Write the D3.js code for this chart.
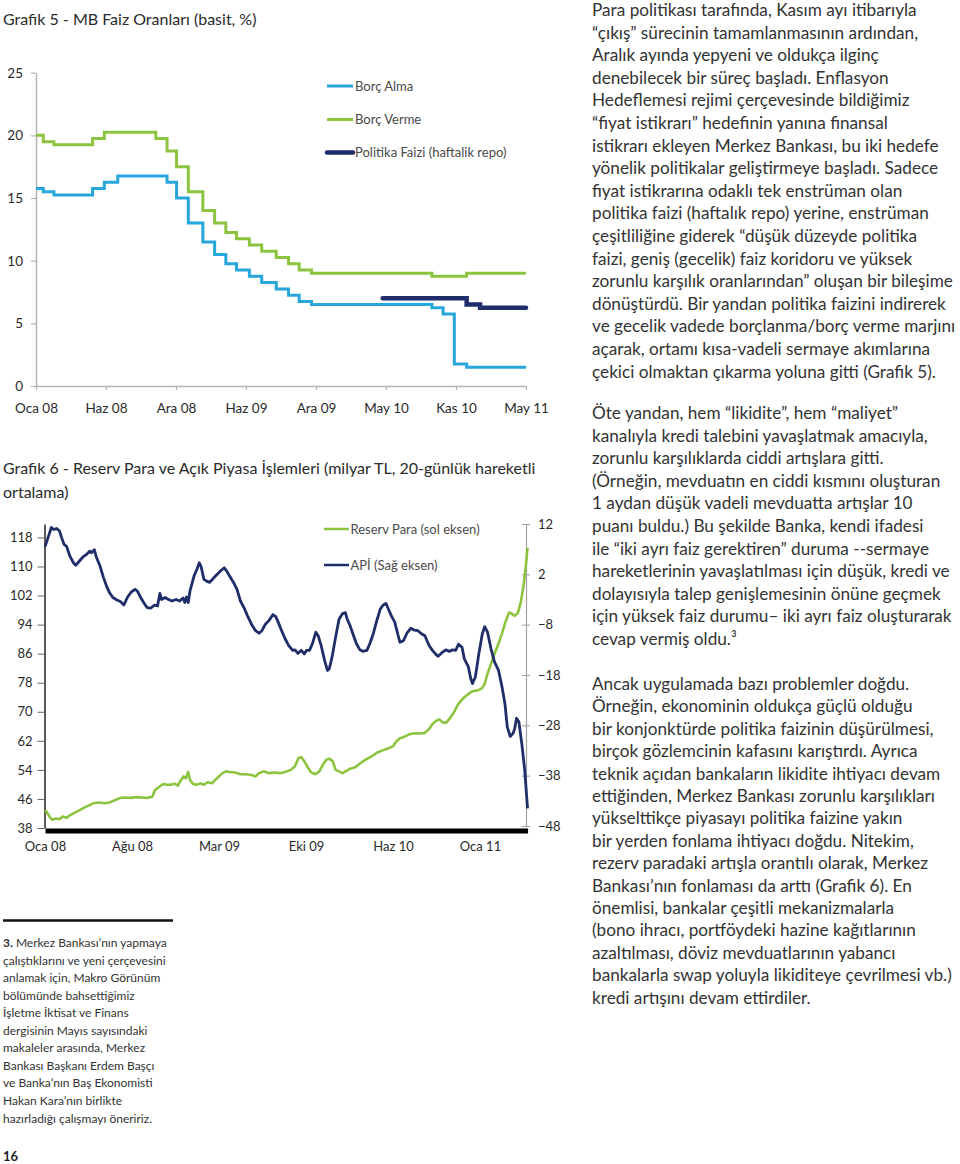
<!DOCTYPE html>
<html><head><meta charset="utf-8">
<script src="https://cdn.jsdelivr.net/npm/d3@7"></script>
<style>
body{margin:0;background:#fff;}
svg{display:block;font-family:Lato,"Noto Sans",sans-serif;}
</style>
</head><body><svg id="c" width="960" height="1164"></svg>
<script>
// ---------- Grafik 5 data (x = business-day observation index, label every 125 obs) ----------
const g5Labels = ["Oca 08","Haz 08","Ara 08","Haz 09","Ara 09","May 10","Kas 10","May 11"];
const g5YTicks = [0,5,10,15,20,25];
const borcAlmaX   = [0,13,32,101,122,146,234,251,272,298,319,339,358,381,403,429,451,470,492,707,727,747,769,875];
const borcAlmaVal = [15.75,15.5,15.25,15.75,16.25,16.75,16.25,15,13,11.5,10.5,9.75,9.25,8.75,8.25,7.75,7.25,6.75,6.5,6.25,5.75,1.75,1.5,1.5];
const borcVermeX   = [0,13,32,101,122,214,234,251,272,298,319,339,358,381,403,429,451,470,492,707,769,875];
const borcVermeVal = [20,19.5,19.25,19.75,20.25,19.75,18.75,17.5,15.5,14,13,12.25,11.75,11.25,10.75,10.25,9.75,9.25,9,8.75,9,9];
const politikaX   = [619,769,793,875];
const politikaVal = [7,6.5,6.25,6.25];

// ---------- Grafik 6 data (x = business-day observation index, label every 150 obs) ----------
const g6Labels = ["Oca 08","Ağu 08","Mar 09","Eki 09","Haz 10","Oca 11"];
const g6LeftTicks = [38,46,54,62,70,78,86,94,102,110,118];
const g6RightTicks = [-48,-38,-28,-18,-8,2,12];
const reservX = [0,3,8,12,19,25,31,37,43,49,56,65,74,83,93,102,111,121,130,139,148,158,167,176,185,190,195,200,204,210,216,223,229,235,239,243,247,250,255,262,268,274,280,288,294,300,306,312,318,328,337,346,356,363,369,377,386,396,405,414,424,431,437,442,447,453,459,466,473,479,485,490,496,501,507,513,518,526,535,544,553,563,572,581,590,600,606,612,618,628,637,646,655,662,668,674,680,686,692,699,705,711,717,723,730,736,742,748,754,758,763,769,775,782,788,794,800,804,810,815,820,825,829,832];
const reservVal = [42.9,42.4,41.1,40.3,40.6,40.4,41.2,40.8,41.5,42.0,42.6,43.4,44.1,44.8,45.0,44.8,45.0,45.7,46.3,46.4,46.3,46.5,46.4,46.3,46.6,48.5,49.1,49.7,50.1,49.9,49.9,50.2,49.7,51.3,52.2,51.7,53.4,51.3,50.1,49.9,50.3,49.9,50.6,50.3,51.3,52.2,53.1,53.6,53.4,53.3,52.8,52.8,52.6,52.2,53.1,53.6,53.1,53.3,53.1,53.4,54.0,55.0,57.3,57.5,56.4,54.7,53.3,52.8,53.6,55.4,56.8,57.1,56.4,54.0,53.6,53.1,53.6,54.3,54.7,55.9,56.8,57.7,58.7,59.3,59.8,60.5,61.9,62.7,63.0,63.8,64.1,64.0,64.2,65.2,66.6,67.5,67.9,67.0,67.0,68.4,69.8,71.7,73.0,74.0,74.9,75.6,75.8,76.0,76.6,77.7,80.5,83.2,86.0,88.8,91.6,94.8,97.3,97.1,96.4,97.1,99.9,104.6,110.1,115.2];
const apiX = [0,3,6,11,15,20,25,29,33,37,43,49,53,59,65,71,77,80,85,88,95,101,107,111,117,124,130,136,142,148,155,159,165,170,176,182,189,194,198,201,207,213,219,226,232,238,241,244,247,250,257,262,266,269,274,278,284,291,297,303,309,313,318,325,331,337,343,349,356,363,369,374,380,386,393,398,402,408,414,420,427,431,436,442,447,451,456,461,467,471,476,482,487,490,495,501,507,513,518,521,526,532,537,543,548,555,560,566,572,578,583,588,592,597,603,609,612,618,624,631,637,643,649,655,662,668,674,678,685,691,697,703,708,713,719,723,730,734,737,742,748,754,758,763,769,775,782,788,793,797,802,807,810,813,817,822,827,830,832];
const apiVal = [7.5,8.5,9.6,11.3,10.9,11.1,10.6,9.2,7.9,7.6,5.6,4.3,3.8,4.6,5.4,5.9,6.6,6.3,6.9,5.6,3.6,1.3,-0.6,-1.6,-2.6,-3.1,-3.4,-4.1,-2.6,-1.6,-1.0,-1.3,-2.6,-3.6,-4.6,-4.7,-4.1,-4.3,-1.8,-3.0,-2.6,-3.0,-3.3,-3.0,-3.3,-2.7,-3.6,-2.5,-3.6,-1.3,1.7,3.0,4.3,3.6,1.0,0.7,0.4,1.3,2.0,2.7,3.3,2.7,1.7,0.4,-1.0,-3.3,-4.6,-6.2,-7.9,-9.2,-9.7,-9.2,-7.9,-7.2,-6.0,-6.4,-7.5,-9.2,-10.8,-12.1,-13.1,-13.0,-13.7,-13.1,-13.8,-13.1,-13.1,-11.8,-9.5,-10.2,-12.1,-15.1,-17.1,-16.8,-14.4,-10.5,-6.9,-5.8,-5.6,-6.9,-8.2,-10.2,-11.8,-13.0,-13.3,-13.1,-11.8,-9.8,-7.2,-4.9,-4.1,-3.8,-4.9,-6.2,-7.5,-10.2,-11.5,-11.2,-9.7,-8.7,-9.1,-9.2,-9.8,-10.2,-12.1,-13.1,-13.9,-14.3,-13.5,-13.0,-13.3,-13.0,-13.1,-11.9,-12.5,-14.8,-16.4,-18.7,-19.7,-18.4,-13.8,-9.8,-8.4,-9.5,-12.8,-15.4,-17.1,-20.4,-23.7,-28.3,-30.2,-29.6,-28.6,-26.6,-27.3,-31.6,-36.8,-41.4,-44.5];

// ---------- Texts ----------
const title5 = "Grafik 5 - MB Faiz Oranları (basit, %)";
const title6 = ["Grafik 6 - Reserv Para ve Açık Piyasa İşlemleri (milyar TL, 20-günlük hareketli","ortalama)"];
const legend5 = ["Borç Alma","Borç Verme","Politika Faizi (haftalik repo)"];
const legend6 = ["Reserv Para (sol eksen)","APİ (Sağ eksen)"];
const para1 = ["Para politikası tarafında, Kasım ayı itibarıyla","“çıkış” sürecinin tamamlanmasının ardından,","Aralık ayında yepyeni ve oldukça ilginç","denebilecek bir süreç başladı. Enflasyon","Hedeflemesi rejimi çerçevesinde bildiğimiz","“fiyat istikrarı” hedefinin yanına finansal","istikrarı ekleyen Merkez Bankası, bu iki hedefe","yönelik politikalar geliştirmeye başladı. Sadece","fiyat istikrarına odaklı tek enstrüman olan","politika faizi (haftalık repo) yerine, enstrüman","çeşitliliğine giderek “düşük düzeyde politika","faizi, geniş (gecelik) faiz koridoru ve yüksek","zorunlu karşılık oranlarından” oluşan bir bileşime","dönüştürdü. Bir yandan politika faizini indirerek","ve gecelik vadede borçlanma/borç verme marjını","açarak, ortamı kısa-vadeli sermaye akımlarına","çekici olmaktan çıkarma yoluna gitti (Grafik 5)."];
const para2 = ["Öte yandan, hem “likidite”, hem “maliyet”","kanalıyla kredi talebini yavaşlatmak amacıyla,","zorunlu karşılıklarda ciddi artışlara gitti.","(Örneğin, mevduatın en ciddi kısmını oluşturan","1 aydan düşük vadeli mevduatta artışlar 10","puanı buldu.) Bu şekilde Banka, kendi ifadesi","ile “iki ayrı faiz gerektiren” duruma --sermaye","hareketlerinin yavaşlatılması için düşük, kredi ve","dolayısıyla talep genişlemesinin önüne geçmek","için yüksek faiz durumu– iki ayrı faiz oluşturarak","cevap vermiş oldu.³"];
const para3 = ["Ancak uygulamada bazı problemler doğdu.","Örneğin, ekonominin oldukça güçlü olduğu","bir konjonktürde politika faizinin düşürülmesi,","birçok gözlemcinin kafasını karıştırdı. Ayrıca","teknik açıdan bankaların likidite ihtiyacı devam","ettiğinden, Merkez Bankası zorunlu karşılıkları","yükselttikçe piyasayı politika faizine yakın","bir yerden fonlama ihtiyacı doğdu. Nitekim,","rezerv paradaki artışla orantılı olarak, Merkez","Bankası’nın fonlaması da arttı (Grafik 6). En","önemlisi, bankalar çeşitli mekanizmalarla","(bono ihracı, portföydeki hazine kağıtlarının","azaltılması, döviz mevduatlarının yabancı","bankalarla swap yoluyla likiditeye çevrilmesi vb.)","kredi artışını devam ettirdiler."];
const footnote = ["Merkez Bankası’nın yapmaya","çalıştıklarını ve yeni çerçevesini","anlamak için, Makro Görünüm","bölümünde bahsettiğimiz","İşletme İktisat ve Finans","dergisinin Mayıs sayısındaki","makaleler arasında, Merkez","Bankası Başkanı Erdem Başçı","ve Banka’nın Baş Ekonomisti","Hakan Kara’nın birlikte","hazırladığı çalışmayı öneririz."];

const svg = d3.select("#c");
svg.append("rect").attr("width",960).attr("height",1164).attr("fill","#fff");

const C = {alma:"#27a6db", verme:"#8cc43f", navy:"#1f2d69", text:"#2a2a2a", body:"#333"};

// ================= Grafik 5 =================
svg.append("text").attr("x",3).attr("y",25).attr("font-size",16).attr("fill",C.text).text(title5);
const x5 = d3.scaleLinear().domain([0,875]).range([36,526]);
const y5 = d3.scaleLinear().domain([0,25]).range([386,72.7]);
const g5 = svg.append("g");
const ax5y = g5.append("g").attr("transform","translate(36,0)")
  .call(d3.axisLeft(y5).tickValues(g5YTicks).tickSize(5).tickPadding(8).tickSizeOuter(0));
const ax5x = g5.append("g").attr("transform","translate(0,386)")
  .call(d3.axisBottom(x5).tickValues(d3.range(0,876,125)).tickFormat((d,i)=>g5Labels[i]).tickSize(4).tickPadding(13).tickSizeOuter(0));
[ax5y,ax5x].forEach(a=>{
  a.select(".domain").attr("stroke","#b3b3b3").attr("stroke-width",1.5);
  a.selectAll(".tick line").attr("stroke","#b3b3b3").attr("stroke-width",1.2);
  a.selectAll("text").attr("font-size",13.5).attr("fill",C.text).attr("font-family","Lato, sans-serif");
});
const step5 = d3.line().x(d=>x5(d[0])).y(d=>y5(d[1])).curve(d3.curveStepAfter);
const zip = (a,b)=>a.map((v,i)=>[v,b[i]]);
g5.append("path").attr("d",step5(zip(borcAlmaX,borcAlmaVal))).attr("fill","none").attr("stroke",C.alma).attr("stroke-width",3);
g5.append("path").attr("d",step5(zip(borcVermeX,borcVermeVal))).attr("fill","none").attr("stroke",C.verme).attr("stroke-width",3);
g5.append("path").attr("d",step5(zip(politikaX,politikaVal))).attr("fill","none").attr("stroke",C.navy).attr("stroke-width",4.5).attr("stroke-linecap","round");
// legend 5
const leg5Col = [C.alma,C.verme,C.navy], leg5W=[3,3,4.5], leg5Y=[86,119.5,152.5];
legend5.forEach((t,i)=>{
  g5.append("line").attr("x1",327).attr("x2",353).attr("y1",leg5Y[i]).attr("y2",leg5Y[i]).attr("stroke",leg5Col[i]).attr("stroke-width",leg5W[i]).attr("stroke-linecap",i==2?"round":"butt");
  g5.append("text").attr("x",355).attr("y",leg5Y[i]+4.5).attr("font-size",13).attr("fill","#4a4a4a").text(t);
});

// ================= Grafik 6 =================
title6.forEach((t,i)=>svg.append("text").attr("x",3).attr("y",474+i*23.5).attr("font-size",16).attr("fill",C.text).text(t));
const x6 = d3.scaleLinear().domain([0,832]).range([45,45+832*87/150]);
const yL = d3.scaleLinear().domain([38,121.7]).range([828,524]);
const yR = d3.scaleLinear().domain([-48,12]).range([826,524]);
const g6 = svg.append("g");
const axL = g6.append("g").attr("transform","translate(44.5,0)")
  .call(d3.axisLeft(yL).tickValues(g6LeftTicks).tickSize(7).tickPadding(5).tickSizeOuter(0));
axL.select(".domain").attr("stroke","#222").attr("stroke-width",1.5);
axL.selectAll(".tick line").attr("stroke","#666");
const axR = g6.append("g").attr("transform","translate(526,0)")
  .call(d3.axisRight(yR).tickValues(g6RightTicks).tickSize(4).tickPadding(8).tickSizeOuter(0));
axR.select(".domain").attr("stroke","#a0a0a0").attr("stroke-width",1.2);
axR.selectAll(".tick line").attr("x1",-4).attr("stroke","#a0a0a0");
const axB = g6.append("g").attr("transform","translate(0,830.5)")
  .call(d3.axisBottom(x6).tickValues(d3.range(0,751,150)).tickFormat((d,i)=>g6Labels[i]).tickSize(0).tickPadding(11).tickSizeOuter(0));
axB.select(".domain").attr("stroke","#000").attr("stroke-width",5);
[axL,axR,axB].forEach(a=>a.selectAll("text").attr("font-size",13).attr("fill",C.text).attr("font-family","Lato, sans-serif"));
const lineL = d3.line().x(d=>x6(d[0])).y(d=>yL(d[1]));
const lineR = d3.line().x(d=>x6(d[0])).y(d=>yR(d[1]));
g6.append("path").attr("d",lineL(zip(reservX,reservVal))).attr("fill","none").attr("stroke",C.verme).attr("stroke-width",2.6).attr("stroke-linejoin","round");
g6.append("path").attr("d",lineR(zip(apiX,apiVal))).attr("fill","none").attr("stroke",C.navy).attr("stroke-width",2.8).attr("stroke-linejoin","round");
const leg6Col=[C.verme,C.navy], leg6Y=[529,565];
legend6.forEach((t,i)=>{
  g6.append("line").attr("x1",324).attr("x2",349).attr("y1",leg6Y[i]).attr("y2",leg6Y[i]).attr("stroke",leg6Col[i]).attr("stroke-width",2.5);
  g6.append("text").attr("x",350.5).attr("y",leg6Y[i]+4.5).attr("font-size",13).attr("fill","#4a4a4a").text(t);
});

// ================= Footnote =================
svg.append("line").attr("x1",3).attr("x2",173).attr("y1",920.5).attr("y2",920.5).attr("stroke","#111").attr("stroke-width",2.5);
footnote.forEach((t,i)=>{
  const tx = svg.append("text").attr("x",3).attr("y",947+i*17.56).attr("font-size",12).attr("fill",C.body);
  if(i===0){ tx.append("tspan").attr("font-weight","bold").text("3."); tx.append("tspan").text(" "+t); }
  else tx.text(t);
});
svg.append("text").attr("x",3).attr("y",1161).attr("font-size",13).attr("font-weight","bold").attr("fill","#222").text("16");

// ================= Right column =================
function para(lines,y0,lh){
  lines.forEach((t,i)=>svg.append("text").attr("x",592).attr("y",y0+i*lh).attr("font-size",17.2).attr("fill",C.body).text(t));
}
para(para1,16,22.6);
para(para2,419,22.6);
para(para3,690,22.4);
</script></body></html>
